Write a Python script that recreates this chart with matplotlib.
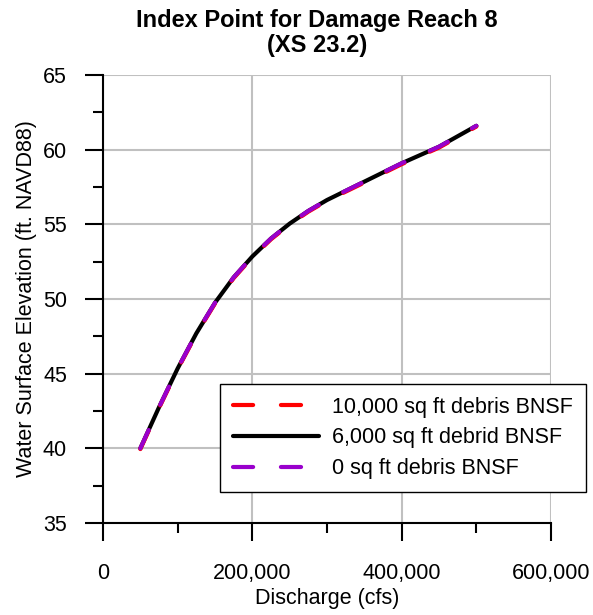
import matplotlib
matplotlib.use("Agg")
import matplotlib.pyplot as plt
from matplotlib.ticker import MultipleLocator, FuncFormatter

plt.rcParams['font.family'] = ['Liberation Sans', 'DejaVu Sans']
plt.rcParams['lines.scale_dashes'] = False

# discharge (cfs) and water surface elevation (ft NAVD88)
discharge = [50000, 75000, 100000, 125000, 150000, 175000, 200000, 225000,
             250000, 275000, 300000, 350000, 400000, 450000, 500000]
wse_10000 = [39.95, 42.7, 45.3, 47.65, 49.7, 51.4, 52.8, 54.0,
             55.0, 55.85, 56.58, 57.8, 59.03, 60.14, 61.55]
wse_6000 = [40.0, 42.75, 45.35, 47.7, 49.75, 51.45, 52.85, 54.05,
            55.05, 55.9, 56.63, 57.86, 59.09, 60.2, 61.6]
wse_0 = [40.0, 42.75, 45.35, 47.7, 49.75, 51.45, 52.85, 54.05,
         55.05, 55.9, 56.63, 57.86, 59.09, 60.2, 61.6]

labels = ["10,000 sq ft debris BNSF", "6,000 sq ft debrid BNSF", "0 sq ft debris BNSF"]

fig = plt.figure(figsize=(5.93, 6.15), dpi=100)
ax = fig.add_axes([0.1737, 0.1496, 0.7555, 0.7284])

l2, = ax.plot(discharge, wse_6000, color='black', lw=3, solid_capstyle='round',
              solid_joinstyle='round', label=labels[1], zorder=3)
l1, = ax.plot(discharge, wse_10000, color='#ff0000', lw=3, dashes=(14.5, 20),
              dash_capstyle='round', label=labels[0], zorder=4)
l3, = ax.plot(discharge, wse_0, color='#9900cc', lw=3, dashes=(14.5, 20),
              dash_capstyle='round', label=labels[2], zorder=5)

ax.set_xlim(0, 600000)
ax.set_ylim(35, 65)
ax.xaxis.set_major_locator(MultipleLocator(200000))
ax.xaxis.set_minor_locator(MultipleLocator(100000))
ax.yaxis.set_major_locator(MultipleLocator(5))
ax.yaxis.set_minor_locator(MultipleLocator(2.5))
ax.xaxis.set_major_formatter(FuncFormatter(lambda v, p: f"{int(v):,}"))

ax.grid(True, which='major', color='#c0c0c0', lw=1.5)
ax.set_axisbelow(True)
for s in ['top', 'right']:
    ax.spines[s].set_visible(False)
for s in ['left', 'bottom']:
    ax.spines[s].set_linewidth(1.5)
    ax.spines[s].set_zorder(6)
ax.tick_params(which='major', length=13, width=1.5, direction='out',
               labelsize=15.5)
ax.tick_params(which='minor', length=7, width=1.5, direction='out')
ax.tick_params(axis='x', which='major', pad=16)
ax.tick_params(axis='y', which='major', pad=13)

ax.set_xlabel("Discharge (cfs)", fontsize=15.5, labelpad=3)
ax.set_ylabel("Water Surface Elevation (ft. NAVD88)", fontsize=15.5, labelpad=4)

fig.text(0.535, 0.985, "Index Point for Damage Reach 8\n(XS 23.2)",
         ha='center', va='top', fontsize=17, fontweight='bold', linespacing=1.1)

leg = ax.legend(handles=[l1, l2, l3], loc='lower left',
                bbox_to_anchor=(0.261, 0.069), fontsize=15.5, frameon=True,
                fancybox=False, framealpha=1, edgecolor='black',
                handlelength=4.0, handletextpad=0.6, labelspacing=0.45,
                borderpad=0.6, borderaxespad=0)
leg.get_frame().set_linewidth(1.0)
leg.set_zorder(10)

fig.savefig("out.png", dpi=100)
